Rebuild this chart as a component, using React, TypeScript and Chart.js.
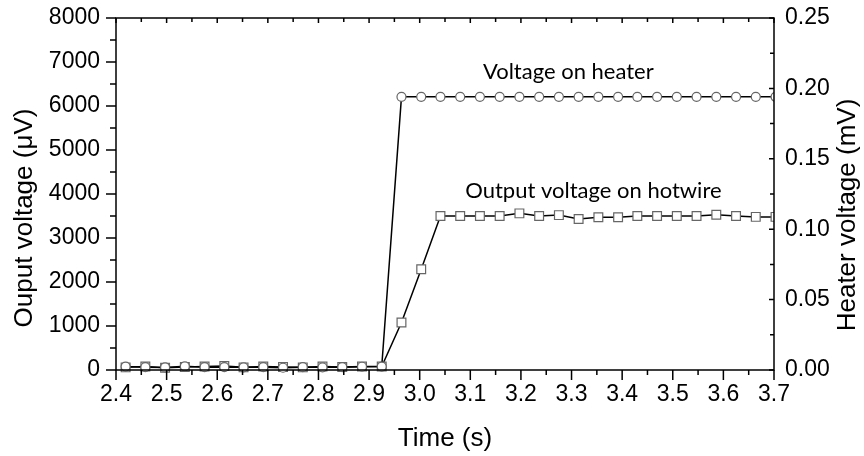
import React, { useEffect, useRef } from 'react';
import { Chart, registerables } from 'chart.js';

Chart.register(...registerables);

// ---- data ----
const timeS = [
  2.419, 2.458, 2.497, 2.536, 2.575, 2.614, 2.652, 2.691, 2.730, 2.769,
  2.808, 2.847, 2.886, 2.925, 2.964, 3.003, 3.041, 3.080, 3.119, 3.158,
  3.197, 3.236, 3.275, 3.314, 3.353, 3.392, 3.430, 3.469, 3.508, 3.547,
  3.586, 3.625, 3.664, 3.703,
];

const hotwireUV = [
  60, 80, 50, 70, 80, 90, 60, 80, 70, 60,
  80, 70, 80, 80, 1080, 2290, 3500, 3500, 3500, 3500,
  3560, 3500, 3520, 3430, 3470, 3470, 3500, 3500, 3500, 3500,
  3530, 3500, 3480, 3480,
];

const heaterMV = [
  0.0024, 0.0020, 0.0018, 0.0026, 0.0020, 0.0020, 0.0019, 0.0020, 0.0016, 0.0020,
  0.0019, 0.0020, 0.0023, 0.0024, 0.194, 0.194, 0.194, 0.194, 0.194, 0.194,
  0.194, 0.194, 0.194, 0.194, 0.194, 0.194, 0.194, 0.194, 0.194, 0.194,
  0.194, 0.194, 0.194, 0.194,
];

const xRange = [2.4, 3.7];
const yLeftRange = [0, 8000];
const yRightRange = [0, 0.25];

const xTitle = 'Time (s)';
const yLeftTitle = 'Ouput voltage (μV)';
const yRightTitle = 'Heater voltage (mV)';
const heaterLabel = 'Voltage on heater';
const hotwireLabel = 'Output voltage on hotwire';

const AXIS_FONT = '"Liberation Sans", Arial, sans-serif';
const NOTE_FONT = 'Lato, "Open Sans", sans-serif';

const framePlugin = {
  id: 'frame',
  afterDraw(chart: any) {
    const { ctx, chartArea: a, scales } = chart;
    const sx = scales.x, sy = scales.y, sy2 = scales.y2;
    ctx.save();
    ctx.strokeStyle = '#000';
    ctx.lineWidth = 1.5;
    ctx.beginPath();
    ctx.rect(a.left, a.top, a.right - a.left, a.bottom - a.top);
    ctx.stroke();

    ctx.beginPath();
    // bottom (outward) & top (inward) ticks
    for (let i = 0; i <= 26; i++) {
      const v = xRange[0] + i * 0.05;
      const px = sx.getPixelForValue(v);
      const major = i % 2 === 0;
      ctx.moveTo(px, a.bottom);
      ctx.lineTo(px, a.bottom + (major ? 10 : 5));
      ctx.moveTo(px, a.top);
      ctx.lineTo(px, a.top + (major ? 5 : 4));
    }
    // left (outward)
    for (let i = 0; i <= 16; i++) {
      const v = i * 500;
      const py = sy.getPixelForValue(v);
      const major = i % 2 === 0;
      ctx.moveTo(a.left, py);
      ctx.lineTo(a.left - (major ? 10 : 6), py);
    }
    // right (inward)
    for (let i = 0; i <= 10; i++) {
      const v = i * 0.025;
      const py = sy2.getPixelForValue(v);
      const major = i % 2 === 0;
      ctx.moveTo(a.right, py);
      ctx.lineTo(a.right - (major ? 5 : 4), py);
    }
    ctx.stroke();

    // axis titles
    ctx.fillStyle = '#000';
    ctx.font = `26px ${AXIS_FONT}`;
    ctx.textAlign = 'center';
    ctx.textBaseline = 'middle';
    ctx.fillText(xTitle, 445, 439);

    ctx.save();
    ctx.translate(25, 218);
    ctx.rotate(-Math.PI / 2);
    ctx.fillText(yLeftTitle, 0, 0);
    ctx.restore();

    ctx.save();
    ctx.translate(848, 215);
    ctx.rotate(-Math.PI / 2);
    ctx.fillText(yRightTitle, 0, 0);
    ctx.restore();

    // series annotations
    ctx.font = `22px ${NOTE_FONT}`;
    ctx.textAlign = 'left';
    ctx.textBaseline = 'alphabetic';
    ctx.fillText(heaterLabel, sx.getPixelForValue(3.125), sy.getPixelForValue(6614));
    ctx.fillText(hotwireLabel, sx.getPixelForValue(3.09), sy.getPixelForValue(3909));
    ctx.restore();
  },
};

const zeroPad = (s: any) => {
  s.paddingTop = 0;
  s.paddingBottom = 0;
  s.paddingLeft = 0;
  s.paddingRight = 0;
};

export default function App() {
  const ref = useRef<HTMLCanvasElement | null>(null);

  useEffect(() => {
    document.body.style.margin = '0';
    const canvas = ref.current;
    if (!canvas) return;
    const tickFont = { family: AXIS_FONT, size: 23 };
    const chart = new Chart(canvas, {
      type: 'line',
      data: {
        datasets: [
          {
            label: 'Heater',
            data: timeS.map((t, i) => ({ x: t, y: heaterMV[i] })),
            yAxisID: 'y2',
            borderColor: '#000',
            borderWidth: 1.5,
            pointStyle: 'circle',
            pointRadius: 4.5,
            pointBorderColor: '#666',
            pointBorderWidth: 1.2,
            pointBackgroundColor: '#fff',
            tension: 0,
            order: 0,
            clip: { left: 10, top: 10, right: 0, bottom: 10 } as any,
          },
          {
            label: 'Hotwire',
            data: timeS.map((t, i) => ({ x: t, y: hotwireUV[i] })),
            yAxisID: 'y',
            borderColor: '#000',
            borderWidth: 1.5,
            pointStyle: 'rect',
            pointRadius: 6.2,
            pointBorderColor: '#666',
            pointBorderWidth: 1.2,
            pointBackgroundColor: '#fff',
            tension: 0,
            order: 1,
            clip: { left: 10, top: 10, right: 0, bottom: 10 } as any,
          },
        ],
      },
      options: {
        responsive: false,
        devicePixelRatio: 1,
        animation: false,
        layout: { padding: { top: 18, left: 0, right: 0, bottom: 0 } },
        plugins: { legend: { display: false }, tooltip: { enabled: false } },
        scales: {
          x: {
            type: 'linear',
            position: 'bottom',
            min: xRange[0],
            max: xRange[1],
            grid: { display: false, drawTicks: false },
            border: { display: false },
            ticks: {
              stepSize: 0.1,
              font: tickFont,
              color: '#000',
              padding: 11,
              maxRotation: 0,
              autoSkip: false,
              callback: (v: any) => Number(v).toFixed(1),
            },
            afterFit: (s: any) => { s.height = 86; zeroPad(s); },
          },
          y: {
            type: 'linear',
            position: 'left',
            min: yLeftRange[0],
            max: yLeftRange[1],
            grid: { display: false, drawTicks: false },
            border: { display: false },
            ticks: {
              stepSize: 1000,
              font: tickFont,
              color: '#000',
              padding: 16,
              callback: (v: any) => String(Math.round(Number(v))),
            },
            afterFit: (s: any) => { s.width = 116; zeroPad(s); },
          },
          y2: {
            type: 'linear',
            position: 'right',
            min: yRightRange[0],
            max: yRightRange[1],
            grid: { display: false, drawTicks: false },
            border: { display: false },
            ticks: {
              stepSize: 0.05,
              font: tickFont,
              color: '#000',
              padding: 11,
              callback: (v: any) => Number(v).toFixed(2),
            },
            afterFit: (s: any) => { s.width = 90; zeroPad(s); },
          },
        },
      },
      plugins: [framePlugin],
    });
    return () => chart.destroy();
  }, []);

  return <canvas ref={ref} width={864} height={456} style={{ display: 'block' }} />;
}
